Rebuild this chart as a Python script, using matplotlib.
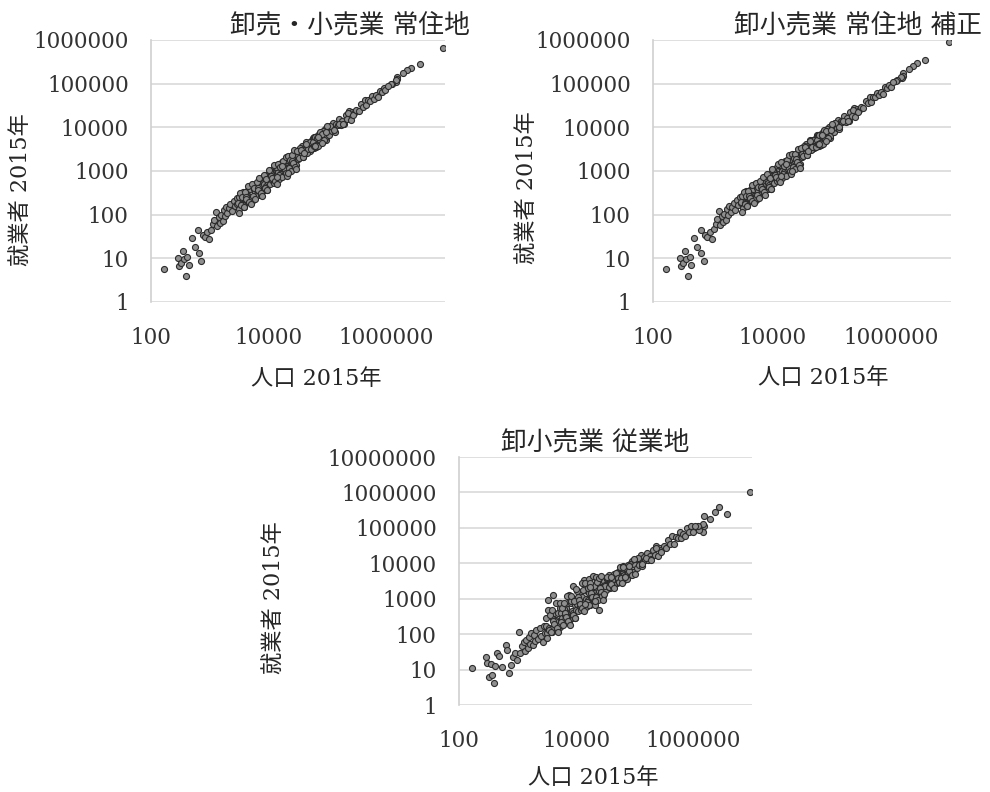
import matplotlib
matplotlib.use("Agg")
import matplotlib.pyplot as plt

plt.rcParams['font.family'] = ['DejaVu Serif', 'Noto Sans CJK JP']

# population 2015 (municipalities), shared by all three panels
population = [
    166, 288, 300, 320, 350, 360, 390, 410, 440, 490, 550, 630, 650, 716, 760, 820, 900, 980,
    1050, 1120, 1200, 1290, 1350, 1420, 1500, 1580, 1650, 1720, 1800, 1900, 2000, 2100, 2250, 2400, 2550, 2700, 2850, 2950,
    3050, 3200, 3350, 3500, 3650, 3800, 3950, 4100, 4250, 4400, 4550, 4700, 4850, 5000, 5200, 5400, 5600, 5800, 6000, 6200,
    6400, 6600, 6800, 7000, 7200, 7400, 7600, 7800, 8000, 8200, 8400, 8600, 8800, 9000, 9200, 9400, 9600, 9800,
    3100, 3700, 4300, 5100, 6100, 7100, 8100,
    10200, 10600, 11000, 11400, 11800, 12200, 12600, 13000, 13500, 14000, 14500, 15000, 15500, 16000, 16600, 17200,
    17800, 18400, 19000, 19700, 20400, 21100, 21800, 22500, 23300, 24100, 24900, 25700, 26500, 27400, 28300, 29200,
    10800, 12000, 13300, 14800, 16300, 18000, 19900, 22000, 24400, 27000, 29700,
    30500, 32000, 33500, 35000, 36500, 38000, 40000, 42000, 44000, 46000, 48000, 50000, 52500, 55000, 57500, 60000,
    63000, 66000, 69000, 72000, 75000, 78000, 82000, 86000, 90000, 94000, 98000,
    31200, 34200, 37300, 41000, 45000, 49000, 54000, 59000, 65000, 71000, 77000, 84000, 92000,
    102000, 108000, 114000, 120000, 127000, 134000, 142000, 150000, 160000, 170000, 180000, 192000, 205000, 218000,
    232000, 248000, 265000, 283000, 112000, 131000, 155000, 187000, 226000, 275000,
    310000, 340000, 370000, 400000, 430000, 460000, 500000, 540000, 580000, 620000, 670000, 720000, 780000, 850000,
    920000, 970000,
    9270000, 3720000, 2690000, 2300000, 1950000, 1540000, 1537000, 1480000, 1475000, 1260000, 1190000, 1080000,
    3150, 3300, 3450, 3600, 3750, 3900, 4050, 4200, 4500, 4650, 4950, 5300, 5500, 5700, 5900, 6300, 6500, 6700,
    6900, 7300, 7700, 8300, 8700, 9100, 9500,
    10400, 11200, 11600, 12400, 12800, 13700, 14200, 15200, 15800, 16800, 17500, 18200, 18800, 19400, 20100,
    20800, 21500, 22200, 23000, 23700, 24600, 25400, 26100, 26900, 27800, 28800, 10100, 13900, 17000, 21300,
    30000, 33000, 36000, 39000, 43000, 47000, 51000, 53500, 56000, 58500, 61500, 64000, 67500, 70000, 73500,
    76000, 80000, 88000, 96000, 39500, 43500, 62000, 68000, 81000, 100000,
]

# wholesale/retail workers, place of residence
workers_res = [
    5.6, 10, 6.5, 8, 14.7, 9.5, 4.0, 11, 7, 29, 18.6, 44.6, 13.5, 8.8, 35, 30, 40, 28,
    45, 60, 75, 117, 55, 90, 65, 100, 72, 130, 95, 150, 110, 140, 180, 120, 210, 160, 240, 175,
    183, 134, 261, 179, 329, 148, 273, 234, 357, 198, 273, 197, 378, 255, 468, 211, 386, 331, 504, 279,
    384, 277, 530, 357, 648, 289, 524, 445, 672, 369, 504, 361, 686, 459, 828, 367, 662, 559,
    260, 167, 258, 214, 476, 362, 729,
    663, 496, 915, 637, 1112, 539, 917, 786, 1185, 710, 943, 702, 1290, 894, 1565, 760,
    1296, 1112, 1667, 999, 1326, 988, 1814, 1258, 2197, 1066, 1813, 1554, 2326, 1389, 1840, 1367,
    899, 671, 1254, 654, 1187, 1088, 1747, 1115, 1586, 1264, 2472,
    2288, 1872, 3066, 2310, 3696, 2109, 3300, 2961, 4224, 2829, 3600, 2925, 4804, 3630, 5822, 3330,
    5198, 4653, 6624, 4428, 5625, 4563, 7503, 5676, 9113, 5217, 8085,
    2200, 3283, 2294, 3075, 2633, 4484, 3564, 5974, 3608, 5858, 5429, 8064, 5658,
    7956, 6739, 10493, 8424, 12878, 7944, 11962, 11115, 15226, 11271, 14040, 11981, 18868, 15304,
    23525, 14701, 22324, 20970, 10658, 8685, 12090, 11669, 20801, 19305,
    24800, 23120, 34040, 29440, 41280, 32384, 42000, 41040, 51968, 44640, 53600, 49536, 68640, 64600,
    79488, 69840,
    660000, 282000, 230000, 205000, 175000, 140000, 125000, 110000, 120000, 100000, 98000, 90000,
    110, 317, 166, 259, 149, 339, 255, 227, 459, 195, 172, 509, 264, 410, 234, 548, 410, 362,
    704, 307, 268, 797, 418, 655, 376,
    980, 764, 679, 1370, 582, 517, 1477, 790, 1232, 721, 1650, 1242, 1100, 2144, 915,
    784, 2237, 1154, 1794, 1017, 2319, 1734, 1527, 2973, 1265, 1086, 1051, 723, 1326, 914,
    2925, 1980, 3105, 2106, 4515, 3173, 4590, 3130, 4536, 3774, 5997, 3840, 5822, 3780, 7718,
    5130, 7200, 5148, 7776, 2548, 4242, 3720, 5865, 4374, 10500,
]

# wholesale/retail workers, place of residence, adjusted
workers_res_adj = [
    5.6, 10, 6.5, 8, 14.7, 9.5, 4.0, 11, 7, 29, 18.6, 44.6, 13.5, 8.8, 35, 30, 40, 28,
    47, 62, 78, 120, 57, 93, 68, 104, 75, 135, 99, 156, 114, 146, 187, 125, 218, 166, 250, 182,
    192, 141, 274, 188, 345, 155, 287, 246, 375, 208, 287, 207, 397, 268, 491, 222, 405, 348, 529, 293,
    403, 291, 557, 375, 680, 303, 550, 467, 706, 387, 529, 379, 720, 482, 869, 385, 695, 587,
    273, 175, 271, 225, 500, 380, 765,
    716, 536, 988, 688, 1201, 582, 990, 849, 1280, 767, 1018, 758, 1393, 966, 1690, 821,
    1400, 1201, 1800, 1079, 1432, 1067, 1959, 1359, 2373, 1151, 1958, 1678, 2512, 1500, 1987, 1476,
    971, 725, 1354, 706, 1282, 1175, 1887, 1204, 1713, 1365, 2670,
    2563, 2097, 3434, 2587, 4140, 2362, 3696, 3316, 4731, 3168, 4032, 3276, 5380, 4066, 6521, 3730,
    5822, 5211, 7419, 4959, 6300, 5111, 8403, 6357, 10207, 5843, 9055,
    2464, 3677, 2569, 3444, 2949, 5022, 3992, 6691, 4041, 6561, 6080, 9032, 6337,
    9309, 7885, 12277, 9856, 15067, 9294, 13996, 13005, 17814, 13187, 16427, 14018, 22076, 17906,
    27524, 17200, 26119, 24535, 12470, 10161, 14145, 13653, 24337, 22587,
    29760, 27744, 40848, 35328, 49536, 38861, 50400, 49248, 62362, 53568, 64320, 59443, 82368, 77520,
    95386, 83808,
    890000, 340000, 290000, 250000, 215000, 175000, 150000, 135000, 145000, 122000, 118000, 108000,
    116, 333, 174, 272, 156, 356, 268, 238, 482, 205, 181, 534, 277, 431, 246, 575, 431, 380,
    739, 322, 281, 837, 439, 688, 395,
    1058, 825, 733, 1480, 629, 558, 1595, 853, 1331, 779, 1782, 1341, 1188, 2316, 988,
    847, 2416, 1246, 1938, 1098, 2505, 1873, 1649, 3211, 1366, 1173, 1135, 781, 1432, 987,
    3276, 2218, 3478, 2359, 5057, 3554, 5141, 3506, 5080, 4227, 6717, 4301, 6521, 4234, 8644,
    5746, 8064, 5766, 8709, 2854, 4751, 4166, 6569, 4899, 11760,
]

# wholesale/retail workers, place of work
workers_work = [
    11, 23, 15, 6.3, 14, 7, 4.1, 12.5, 29, 25, 12, 49, 35, 8, 13.5, 22, 30, 19,
    117, 29, 45, 60, 33, 70, 40, 85, 52, 110, 48, 95, 65, 130, 75, 150, 90, 60, 170, 110,
    168, 106, 930, 154, 382, 115, 271, 1260, 398, 169, 250, 155, 400, 220, 543, 163, 385, 287, 561, 239,
    352, 218, 561, 308, 752, 224, 1300, 386, 748, 316, 462, 284, 2340, 396, 961, 284, 660, 485,
    290, 143, 237, 168, 504, 313, 847,
    714, 445, 1155, 638, 1569, 470, 1103, 819, 3300, 686, 1015, 630, 1628, 896, 3600, 662,
    1558, 1159, 2261, 965, 1428, 886, 3800, 1260, 3099, 480, 2179, 1619, 3154, 1343, 1981, 1226,
    1134, 672, 1769, 570, 1426, 1134, 2368, 1078, 1708, 1134, 3119,
    2440, 1792, 3618, 2296, 4672, 1976, 3840, 3024, 5104, 2760, 3840, 2800, 5670, 3608, 7360, 3120,
    6048, 4752, 8004, 4320, 6000, 4368, 8856, 5642, 11520, 4888, 9408,
    2246, 3967, 2238, 3280, 2520, 5292, 3542, 7552, 3380, 6816, 5544, 9744, 5520,
    9180, 7290, 13338, 9180, 17145, 8442, 14697, 12420, 20160, 12240, 16200, 12960, 23985, 16677,
    31320, 15624, 27428, 23432, 14112, 9432, 13950, 12623, 26442, 21038,
    31000, 27200, 46250, 36000, 58050, 34500, 55000, 51300, 75400, 52700, 67000, 57600, 97500, 76500,
    110400, 77600,
    1020000, 245000, 400000, 290000, 180000, 215000, 110000, 75000, 125000, 90000, 110000, 115000,
    76, 475, 135, 346, 113, 468, 243, 189, 756, 153, 119, 763, 215, 547, 177, 756, 390, 302,
    1159, 241, 185, 1195, 339, 874, 285,
    1664, 896, 696, 2778, 563, 438, 2726, 790, 2022, 672, 2800, 1456, 1128, 4346, 884,
    666, 4128, 1154, 2944, 948, 3936, 2032, 1566, 4304, 1223, 922, 1939, 723, 2176, 852,
    1350, 4208, 2160, 4095, 2096, 5464, 3825, 2889, 7770, 3949, 2768, 8160, 4050, 7350, 3583,
    8835, 6000, 4752, 13320, 2667, 1958, 7905, 4080, 8505, 4875,
]

titles = ["卸売・小売業 常住地", "卸小売業 常住地 補正", "卸小売業 従業地"]
xlabel = "人口 2015年"
ylabel = "就業者 2015年"
x_ticks = [100, 10000, 1000000]

fig = plt.figure(figsize=(9.9, 7.92), dpi=100)

panels = [
    # axes rect, y max, series, title pos, xlabel pos, ylabel pos
    ([0.1525, 0.6187, 0.297, 0.3308], 1e6, workers_res, (0.3535, 0.968), (0.3197, 0.521), (0.022, 0.760)),
    ([0.6596, 0.6187, 0.301, 0.3308], 1e6, workers_res_adj, (0.8667, 0.968), (0.8316, 0.523), (0.533, 0.763)),
    ([0.4636, 0.1098, 0.296, 0.3131], 1e7, workers_work, (0.601, 0.4407), (0.599, 0.0177), (0.278, 0.245)),
]

for (rect, ymax, workers, tpos, xpos, ypos), title in zip(panels, titles):
    ax = fig.add_axes(rect)
    ax.scatter(population, workers, s=19, facecolor='#8f8f8f', edgecolor='#2b2b2b',
               linewidth=0.8, zorder=3)
    ax.set_xscale('log')
    ax.set_yscale('log')
    ax.set_xlim(100, 1e7)
    ax.set_ylim(1, ymax)

    y_ticks = [10 ** k for k in range(0, 8) if 10 ** k <= ymax]
    ax.set_yticks(y_ticks)
    ax.set_yticklabels([str(v) for v in y_ticks])
    ax.set_xticks(x_ticks)
    ax.set_xticklabels([str(v) for v in x_ticks])
    ax.minorticks_off()
    ax.tick_params(axis='both', length=0, labelsize=15.5, colors='#333333')
    ax.tick_params(axis='x', pad=18)
    ax.tick_params(axis='y', pad=16)

    ax.grid(axis='y', color='#d9d9d9', linewidth=1.2, zorder=0)
    for side in ['top', 'right', 'bottom']:
        ax.spines[side].set_visible(False)
    ax.spines['left'].set_color('#d0d0d0')
    ax.spines['left'].set_linewidth(1.2)

    fig.text(tpos[0], tpos[1], title, fontsize=18.5, color='#262626', ha='center', va='center')
    fig.text(xpos[0], xpos[1], xlabel, fontsize=16, color='#262626', ha='center', va='center')
    fig.text(ypos[0], ypos[1], ylabel, fontsize=16, color='#262626', ha='center', va='center',
             rotation=90)

fig.savefig('out.png', dpi=100)
